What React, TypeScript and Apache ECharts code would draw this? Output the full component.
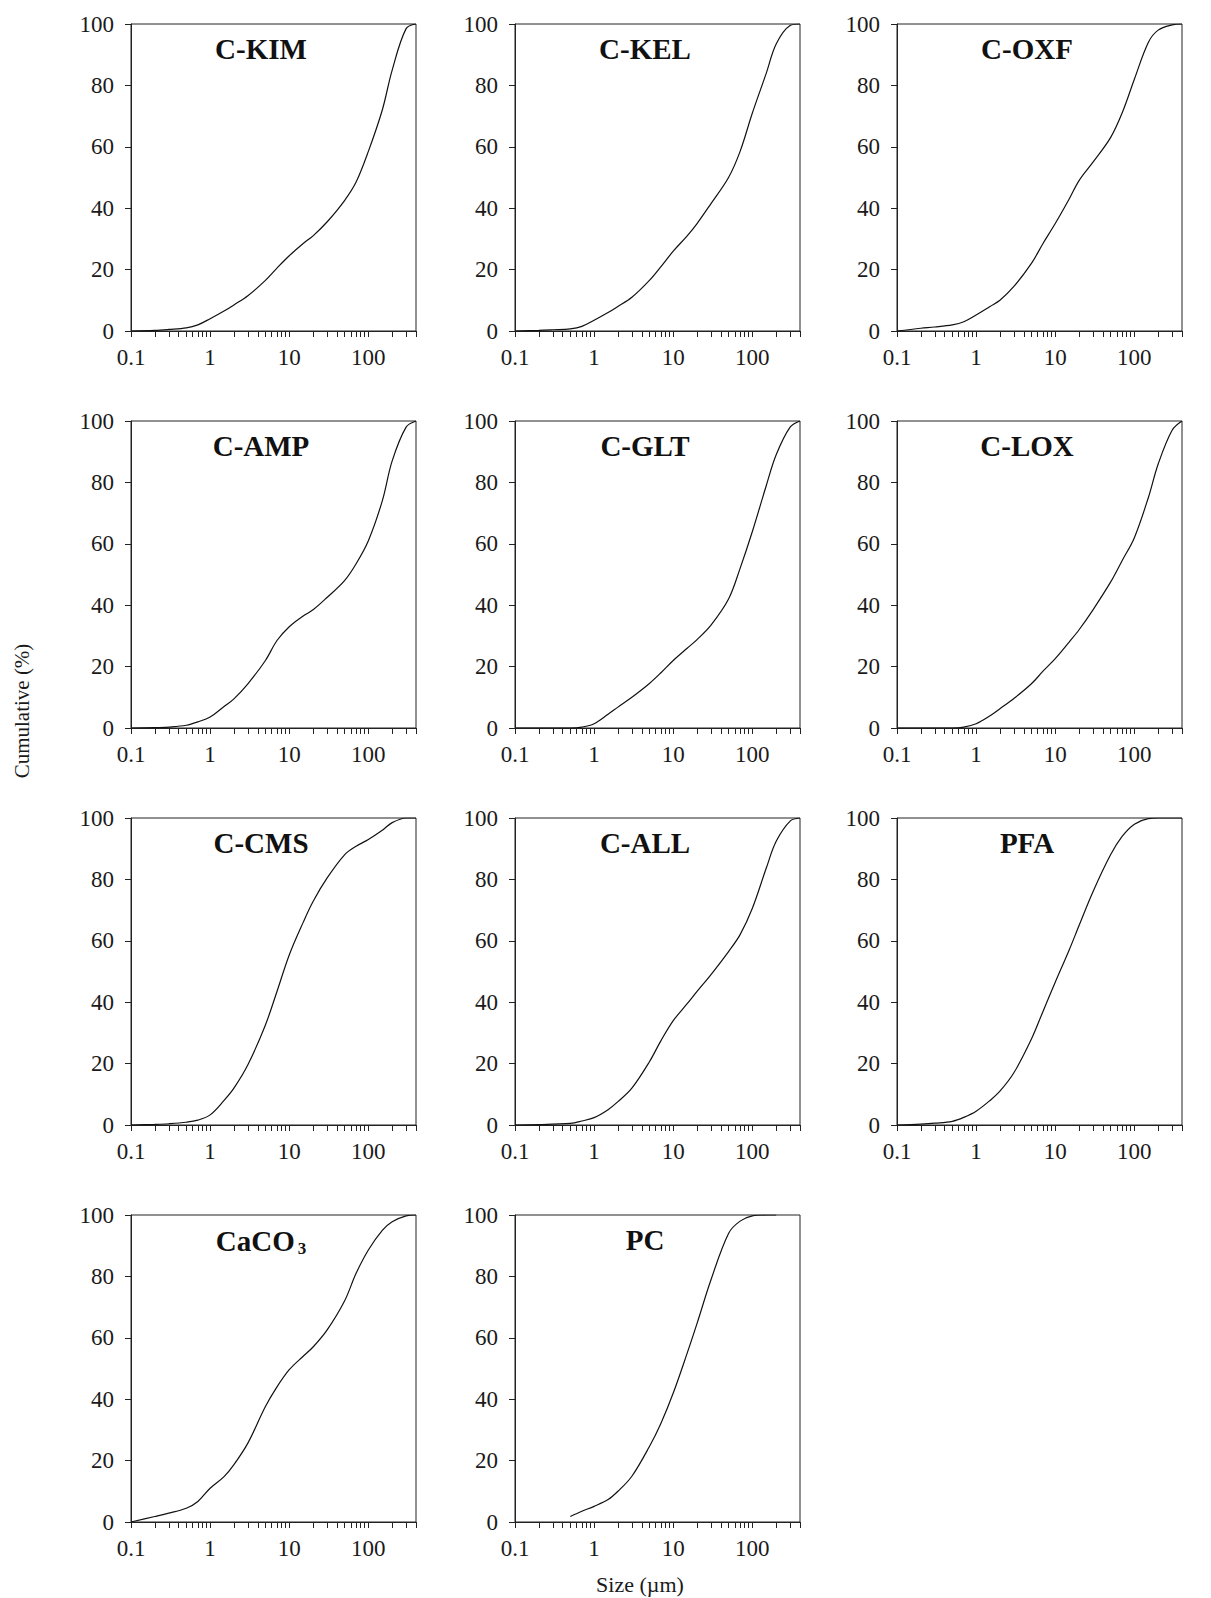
import React, { useEffect, useRef } from "react";
import * as echarts from "echarts";

// Particle sizes (µm) shared by most samples
const sizes = [0.1, 0.2, 0.3, 0.5, 0.7, 1, 1.5, 2, 3, 5, 7, 10, 15, 20, 30, 50, 70, 100, 150, 200, 300, 400];

const cKIM = [0, 0.2, 0.5, 1, 2, 4, 6.5, 8.5, 11.5, 16.5, 20.5, 24.5, 28.5, 31, 35.5, 42.5, 48.5, 58.5, 72, 85, 98.5, 100];
const cKEL = [0, 0.2, 0.4, 0.7, 1.5, 3.5, 6, 8, 11, 16.5, 21, 26, 31, 35, 41.5, 50, 58.5, 71, 84, 93.5, 99.5, 100];
const cOXF = [0, 0.9, 1.3, 2, 3, 5.2, 8, 10, 14.5, 22, 28.5, 35, 43, 49, 55, 63, 71, 82, 94, 98, 99.7, 100];
const cAMP = [0, 0.1, 0.3, 0.9, 2, 3.6, 7, 9.5, 14.4, 22, 28.5, 33, 36.5, 38.5, 42.5, 48, 53.5, 61, 74, 87, 98, 100];
const cGLT = [0, 0, 0, 0, 0.3, 1.4, 4.5, 6.8, 10, 14.5, 18, 22, 26, 28.8, 33.5, 42, 52, 64, 79, 89, 98, 100];
const cLOX = [0, 0, 0, 0, 0.3, 1.4, 4, 6.3, 9.6, 14.4, 18.5, 22.6, 28, 32, 38.5, 47.5, 54.5, 62, 75, 86, 97, 100];
const cCMS = [0, 0.2, 0.4, 0.9, 1.6, 3.3, 8, 12, 19.6, 32.6, 43.5, 55.4, 66, 72.8, 80.4, 88, 90.8, 93, 96, 98.5, 100, 100];
const cALL = [0, 0.1, 0.3, 0.5, 1.3, 2.4, 5, 7.6, 12, 20.6, 27.5, 34, 39.5, 43.5, 49, 56.5, 62, 70.6, 83.7, 92.4, 99, 100];
const pfa = [0, 0.3, 0.6, 1.2, 2.5, 4.5, 8, 11, 17, 28, 37, 46.5, 57, 65, 76, 88, 94, 98, 99.8, 100, 100, 100];
const caco3 = [0, 1.8, 2.9, 4.5, 6.7, 11, 14.8, 18.7, 25.7, 37.6, 44, 49.6, 54, 57, 62.5, 72, 81, 88.6, 95, 97.8, 99.7, 100];

// PC has its own size range
const pcSizes = [0.5, 0.7, 1, 1.5, 2, 3, 5, 7, 10, 15, 20, 30, 50, 70, 100, 150, 200];
const pc = [1.8, 3.5, 5.1, 7.3, 10, 14.9, 24.6, 32.2, 42, 55, 64.7, 78.9, 94, 98, 99.7, 100, 100];

const panelNames = ["C-KIM", "C-KEL", "C-OXF", "C-AMP", "C-GLT", "C-LOX", "C-CMS", "C-ALL", "PFA", "CaCO{sub|3}", "PC"];
const panelSizes = [sizes, sizes, sizes, sizes, sizes, sizes, sizes, sizes, sizes, sizes, pcSizes];
const panelValues = [cKIM, cKEL, cOXF, cAMP, cGLT, cLOX, cCMS, cALL, pfa, caco3, pc];

const xLabelValues = [0.1, 1, 10, 100];
const xTickLabels = ["0.1", "1", "10", "100"];
const xTickValues = [
  0.1, 0.2, 0.3, 0.4, 0.5, 0.6, 0.7, 0.8, 0.9,
  1, 2, 3, 4, 5, 6, 7, 8, 9,
  10, 20, 30, 40, 50, 60, 70, 80, 90,
  100, 200, 300, 400,
];

const yAxisName = "Cumulative (%)";
const xAxisName = "Size (µm)";

const FONT = "'Liberation Serif', 'Times New Roman', serif";
const colLeft = [131, 515, 897];
const rowTop = [24, 421, 818, 1215];
const plotW = 285;
const plotH = 307;

export default function App() {
  const ref = useRef<HTMLDivElement>(null);
  useEffect(() => {
    document.body.style.margin = "0";
    if (!ref.current) return;
    const chart = echarts.init(ref.current, null, { renderer: "svg" });
    const n = panelNames.length;
    const grids: any[] = [];
    const xAxes: any[] = [];
    const yAxes: any[] = [];
    const series: any[] = [];
    const graphics: any[] = [];
    for (let i = 0; i < n; i++) {
      const left = colLeft[i % 3];
      const top = rowTop[Math.floor(i / 3)];
      grids.push({
        left,
        top,
        width: plotW,
        height: plotH,
        show: true,
        borderColor: "#222",
        borderWidth: 1,
        backgroundColor: "transparent",
      });
      xAxes.push({
        type: "log",
        logBase: 10,
        gridIndex: i,
        min: 0.1,
        max: 400,
        axisLine: { show: true, onZero: false, lineStyle: { color: "#222", width: 1 } },
        axisTick: { show: true, customValues: xTickValues, length: 6, lineStyle: { color: "#222", width: 1 } },
        axisLabel: {
          customValues: xLabelValues,
          formatter: (v: number) => {
            let best = 0;
            for (let k = 0; k < xLabelValues.length; k++) {
              if (Math.abs(Math.log10(v) - Math.log10(xLabelValues[k])) < Math.abs(Math.log10(v) - Math.log10(xLabelValues[best]))) best = k;
            }
            return xTickLabels[best];
          },
          fontSize: 23,
          fontFamily: FONT,
          color: "#1a1a1a",
          margin: 15,
        },
        splitLine: { show: false },
        minorTick: { show: false },
      });
      yAxes.push({
        type: "value",
        gridIndex: i,
        min: 0,
        max: 100,
        interval: 20,
        axisLine: { show: true, lineStyle: { color: "#222", width: 1 } },
        axisTick: { show: true, length: 6, lineStyle: { color: "#222", width: 1 } },
        axisLabel: { fontSize: 23, fontFamily: FONT, color: "#1a1a1a", margin: 17 },
        splitLine: { show: false },
      });
      series.push({
        type: "line",
        xAxisIndex: i,
        yAxisIndex: i,
        data: panelSizes[i].map((s, k) => [s, panelValues[i][k]]),
        showSymbol: false,
        symbol: "none",
        smooth: 0.35,
        lineStyle: { color: "#111", width: 1.2 },
      });
      graphics.push({
        type: "text",
        x: left + 130,
        y: top + 10,
        style: {
          text: panelNames[i],
          fontSize: 29,
          fontWeight: "bold",
          fontFamily: FONT,
          fill: "#111",
          align: "center",
          verticalAlign: "top",
          rich: {
            sub: { fontSize: 17, fontWeight: "bold", fontFamily: FONT, fill: "#111", padding: [15, 0, 0, 3] },
          },
        },
      });
    }
    graphics.push({
      type: "text",
      x: 22,
      y: 711,
      rotation: Math.PI / 2,
      style: { text: yAxisName, fontSize: 21, fontFamily: FONT, fill: "#1a1a1a", align: "center", verticalAlign: "middle" },
    });
    graphics.push({
      type: "text",
      x: 640,
      y: 1584,
      style: { text: xAxisName, fontSize: 22, fontFamily: FONT, fill: "#1a1a1a", align: "center", verticalAlign: "middle" },
    });
    chart.setOption({
      animation: false,
      backgroundColor: "#ffffff",
      grid: grids,
      xAxis: xAxes,
      yAxis: yAxes,
      series,
      graphic: graphics,
    });
    return () => chart.dispose();
  }, []);
  return <div ref={ref} style={{ width: 1211, height: 1598 }} />;
}
